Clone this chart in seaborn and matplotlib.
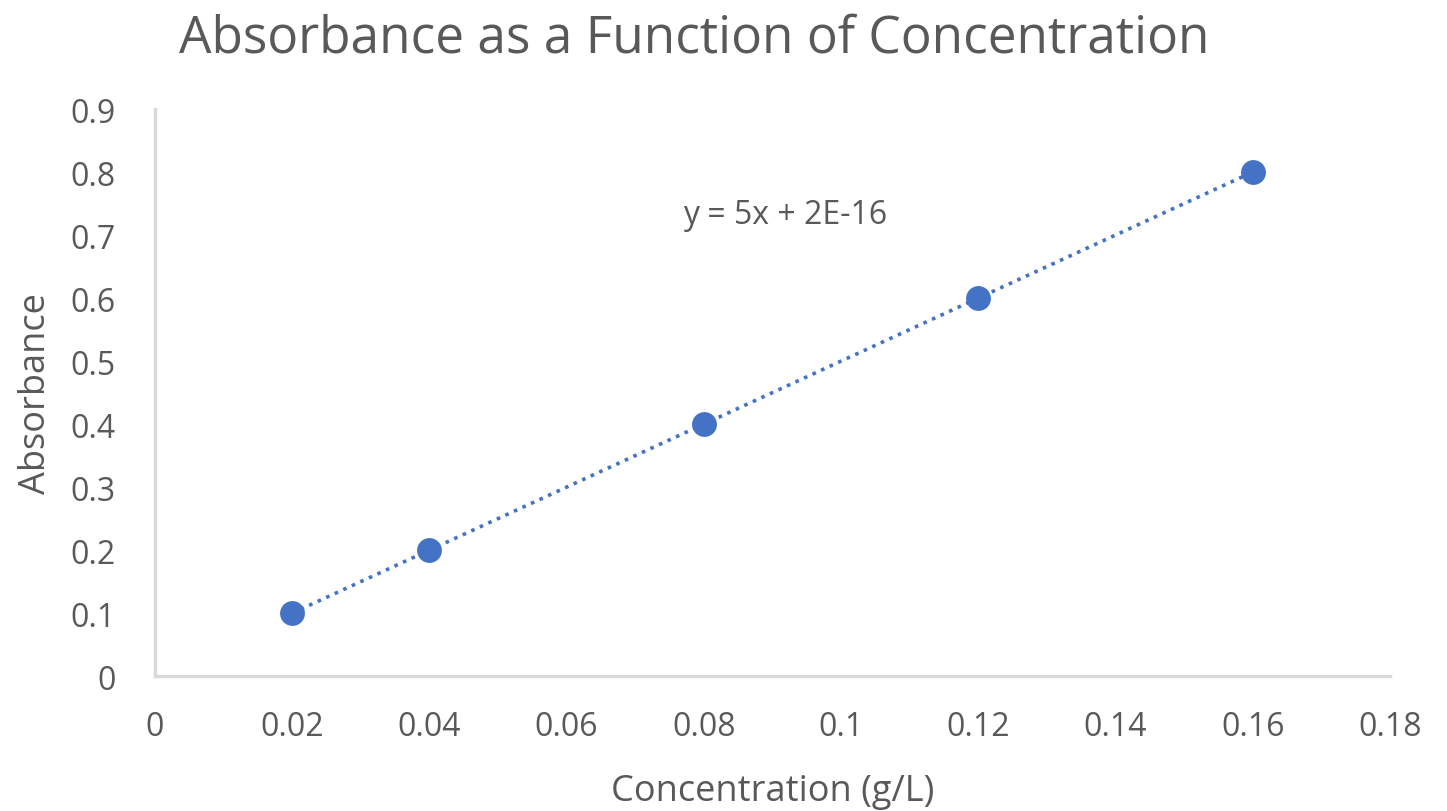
import numpy as np
import pandas as pd
import matplotlib
matplotlib.use('Agg')
import matplotlib.pyplot as plt
import seaborn as sns

# ── Data ─────────────────────────────────────────────────────
concentration = [0.02, 0.04, 0.08, 0.12, 0.16]
absorbance = [0.1, 0.2, 0.4, 0.6, 0.8]
x_ticks = [0, 0.02, 0.04, 0.06, 0.08, 0.1, 0.12, 0.14, 0.16, 0.18]
y_ticks = [0, 0.1, 0.2, 0.3, 0.4, 0.5, 0.6, 0.7, 0.8, 0.9]

df = pd.DataFrame({'Concentration': concentration, 'Absorbance': absorbance})

sns.set_style("white")
plt.rcParams['font.family'] = ['Open Sans', 'DejaVu Sans']

blue = '#4472C4'
grey_txt = '#595959'
axis_col = '#D9D9D9'

fig = plt.figure(figsize=(14.47, 8.12), dpi=100)
ax = fig.add_axes([0.107, 0.166, 0.8536, 0.6985])

# trendline (linear fit)
sns.regplot(data=df, x='Concentration', y='Absorbance', scatter=False, ci=None,
            ax=ax, line_kws=dict(color=blue, linestyle=(0, (1, 1.6)), linewidth=2.6))
sns.scatterplot(data=df, x='Concentration', y='Absorbance', ax=ax,
                s=320, color=blue, edgecolor=blue, linewidth=0, zorder=3)

ax.text(0.077, 0.733, 'y = 5x + 2E-16', fontsize=23, color=grey_txt, va='center', ha='left')

ax.set_xlim(0, 0.18)
ax.set_ylim(0, 0.9)
ax.set_xticks(x_ticks)
ax.set_yticks(y_ticks)
ax.set_xticklabels([f"{t:g}" for t in x_ticks])
ax.set_yticklabels([f"{t:g}" for t in y_ticks])
ax.tick_params(axis='both', labelsize=23, colors=grey_txt, length=0)
ax.tick_params(axis='x', pad=24)
ax.tick_params(axis='y', pad=28)

for s in ['top', 'right']:
    ax.spines[s].set_visible(False)
for s in ['left', 'bottom']:
    ax.spines[s].set_color(axis_col)
    ax.spines[s].set_linewidth(2.5)

ax.set_xlabel('Concentration (g/L)', fontsize=26, color=grey_txt, labelpad=22)
ax.set_ylabel('Absorbance', fontsize=26, color=grey_txt, labelpad=12)
fig.text(0.48, 0.952, 'Absorbance as a Function of Concentration', fontsize=37,
         color=grey_txt, ha='center', va='center')

plt.savefig('out.png', dpi=100)
plt.close()
